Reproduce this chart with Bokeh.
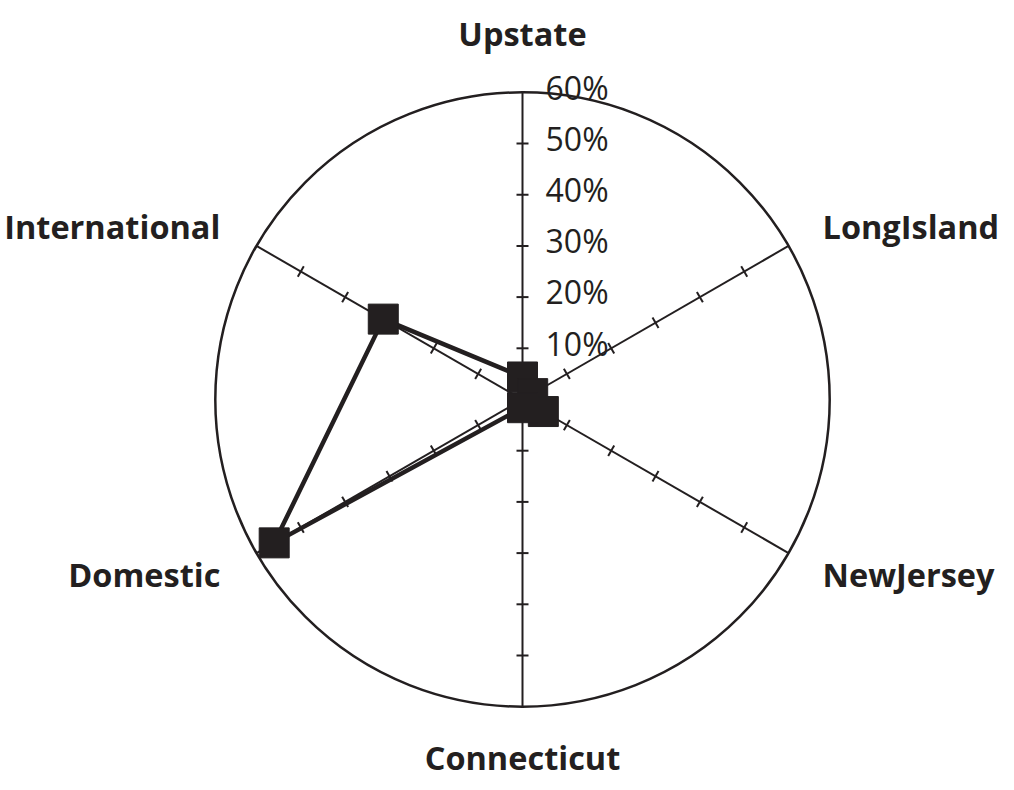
import numpy as np
from bokeh.plotting import figure
from bokeh.models import Range1d
from bokeh.core.properties import value
from bokeh.embed import file_html
from bokeh.resources import INLINE

# ---- data ----
categories = ["Upstate", "LongIsland", "NewJersey", "Connecticut", "Domestic", "International"]
values = [4.4, 2.3, 4.7, 1.6, 56.0, 31.4]          # percent
tick_values = [10, 20, 30, 40, 50, 60]
tick_labels = ["10%", "20%", "30%", "40%", "50%", "60%"]
r_max = 60

INK = "#231f20"
PX = 5.12  # pixels per percent
W, H = 1014, 790
cx, cy = 522, 399  # center in canvas pixels (from left, from top)

p = figure(width=W, height=H, output_backend="svg", toolbar_location=None,
           x_range=Range1d(-cx / PX, (W - cx) / PX),
           y_range=Range1d(-(H - cy) / PX, cy / PX),
           min_border=0, outline_line_color=None)
p.axis.visible = False
p.grid.visible = False
p.background_fill_color = "white"

n = len(categories)
angles = np.deg2rad(90 - np.arange(n) * 360 / n)

# outer circle
p.circle(x=[0], y=[0], radius=r_max, fill_color=None, line_color=INK, line_width=2.5)

# spokes
p.segment(x0=[0] * n, y0=[0] * n, x1=list(r_max * np.cos(angles)), y1=list(r_max * np.sin(angles)),
          line_color=INK, line_width=2)

# tick marks
hl = 6 / PX
tx0, ty0, tx1, ty1 = [], [], [], []
for a in angles:
    for v in tick_values[:-1]:
        px, py = v * np.cos(a), v * np.sin(a)
        nx, ny = -np.sin(a), np.cos(a)
        tx0.append(px - hl * nx); ty0.append(py - hl * ny)
        tx1.append(px + hl * nx); ty1.append(py + hl * ny)
p.segment(x0=tx0, y0=ty0, x1=tx1, y1=ty1, line_color=INK, line_width=2)

# tick labels
p.text(x=[4.5] * len(tick_values), y=[v + 1 for v in tick_values], text=tick_labels,
       text_font=value("Open Sans"), text_font_size="32px", text_color=INK,
       text_align="left", text_baseline="middle")

# data polygon
xs = [v * np.cos(a) for v, a in zip(values, angles)]
ys = [v * np.sin(a) for v, a in zip(values, angles)]
p.line(x=xs + xs[:1], y=ys + ys[:1], line_color=INK, line_width=4.5)
p.scatter(x=xs, y=ys, marker="square", size=30, fill_color=INK, line_color=INK)

# category labels
lab_x = [0, 58.6, 58.6, 0, -59.0, -59.0]
lab_y = [71.5, 33.8, -34.2, -69.9, -34.2, 33.8]
lab_align = ["center", "left", "left", "center", "right", "right"]
for t, x, y, al in zip(categories, lab_x, lab_y, lab_align):
    p.text(x=[x], y=[y], text=[t], text_font=value("Open Sans"), text_font_style="bold",
           text_font_size="32.5px", text_color=INK, text_align=al, text_baseline="middle")

open("out.html", "w").write(file_html(p, INLINE))
